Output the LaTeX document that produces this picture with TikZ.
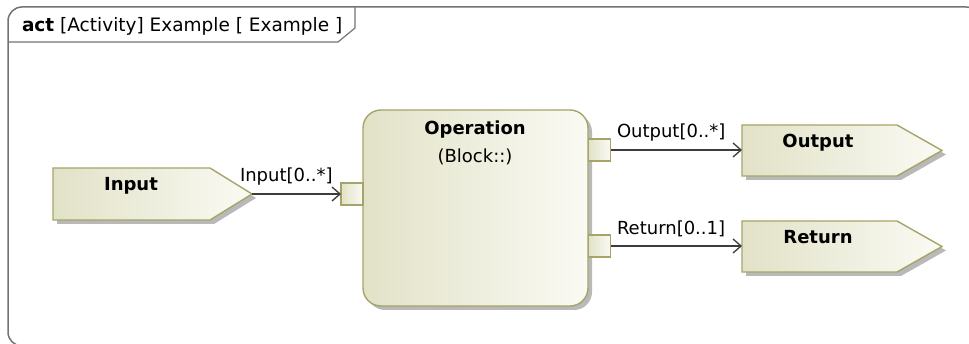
\documentclass[tikz,border=0pt]{standalone}
\usepackage{fontspec}
\setmainfont{DejaVu Sans}
\usetikzlibrary{arrows.meta}
\definecolor{umlborder}{RGB}{165,165,105}
\definecolor{fillA}{RGB}{226,226,200}
\definecolor{fillB}{RGB}{250,250,244}
\definecolor{shadowgray}{RGB}{185,185,185}
\definecolor{linegray}{RGB}{60,60,60}
\definecolor{framegray}{RGB}{115,115,115}
\begin{document}
\begin{tikzpicture}[x=1pt,y=-1pt,
  every node/.style={inner sep=0pt, outer sep=0pt},
  txt/.style={font=\fontsize{18}{21}\selectfont},
  btxt/.style={font=\fontsize{18}{21}\selectfont\bfseries},
  elem/.style={draw=umlborder, line width=1.4pt, left color=fillA, right color=fillB},
  flow/.style={draw=linegray, line width=1.3pt, -{Straight Barb[length=8pt,width=14pt,line width=1.3pt]}},
  port/.style={elem, rectangle, minimum size=22pt}]
\useasboundingbox (0,0) rectangle (969,344);
% frame
\begin{scope}
\clip (0,0) rectangle (969,344);
\draw[framegray, line width=1.5pt, rounded corners=14pt] (8,7) rectangle (980,346);
\end{scope}
\draw[framegray, line width=1.2pt] (8,42) -- (338,42) -- (355,28) -- (355,7);
\node[txt, anchor=base west, font=\fontsize{18.5}{21}\selectfont] (title) at (22,32) {\textbf{act} [Activity] Example [ Example ]};
% main action
\fill[shadowgray, rounded corners=18pt] (367,114) rectangle (592,310);
\path[elem, rounded corners=18pt] (363,110) rectangle (588,306);
\node[btxt, anchor=base] (opname) at (475,135) {Operation};
\node[txt, anchor=base] (optype) at (475,163) {(Block::)};
% ports
\node[port] (inport) at (352,194) {};
\node[port] (outport) at (599.5,150) {};
\node[port] (retport) at (599.5,246) {};
% input pin
\fill[shadowgray] (57,172) -- (214,172) -- (256,198) -- (214,224) -- (57,224) -- cycle;
\path[elem] (53,168) -- (210,168) -- (252,194) -- (210,220) -- (53,220) -- cycle;
\coordinate (inputTip) at (252,194);
\node[btxt, anchor=base] (inputName) at (131,191) {Input};
% output pin
\fill[shadowgray] (746,129) -- (901,129) -- (946,154.5) -- (901,180) -- (746,180) -- cycle;
\path[elem] (742,125) -- (897,125) -- (942,150.5) -- (897,176) -- (742,176) -- cycle;
\coordinate (outputIn) at (742,150);
\node[btxt, anchor=base] (outputName) at (818,148) {Output};
% return pin
\fill[shadowgray] (746,225) -- (901,225) -- (946,250.5) -- (901,276) -- (746,276) -- cycle;
\path[elem] (742,221) -- (897,221) -- (942,246.5) -- (897,272) -- (742,272) -- cycle;
\coordinate (returnIn) at (742,246);
\node[btxt, anchor=base] (returnName) at (818,244) {Return};
% flows
\draw[flow] (inputTip) -- (inport.west);
\draw[flow] (outport.east) -- (outputIn);
\draw[flow] (retport.east) -- (returnIn);
\node[txt, anchor=base west] (inLbl) at (240,182) {Input[0..*]};
\node[txt, anchor=base west] (outLbl) at (617,138) {Output[0..*]};
\node[txt, anchor=base west] (retLbl) at (617,235) {Return[0..1]};
\end{tikzpicture}
\end{document}
